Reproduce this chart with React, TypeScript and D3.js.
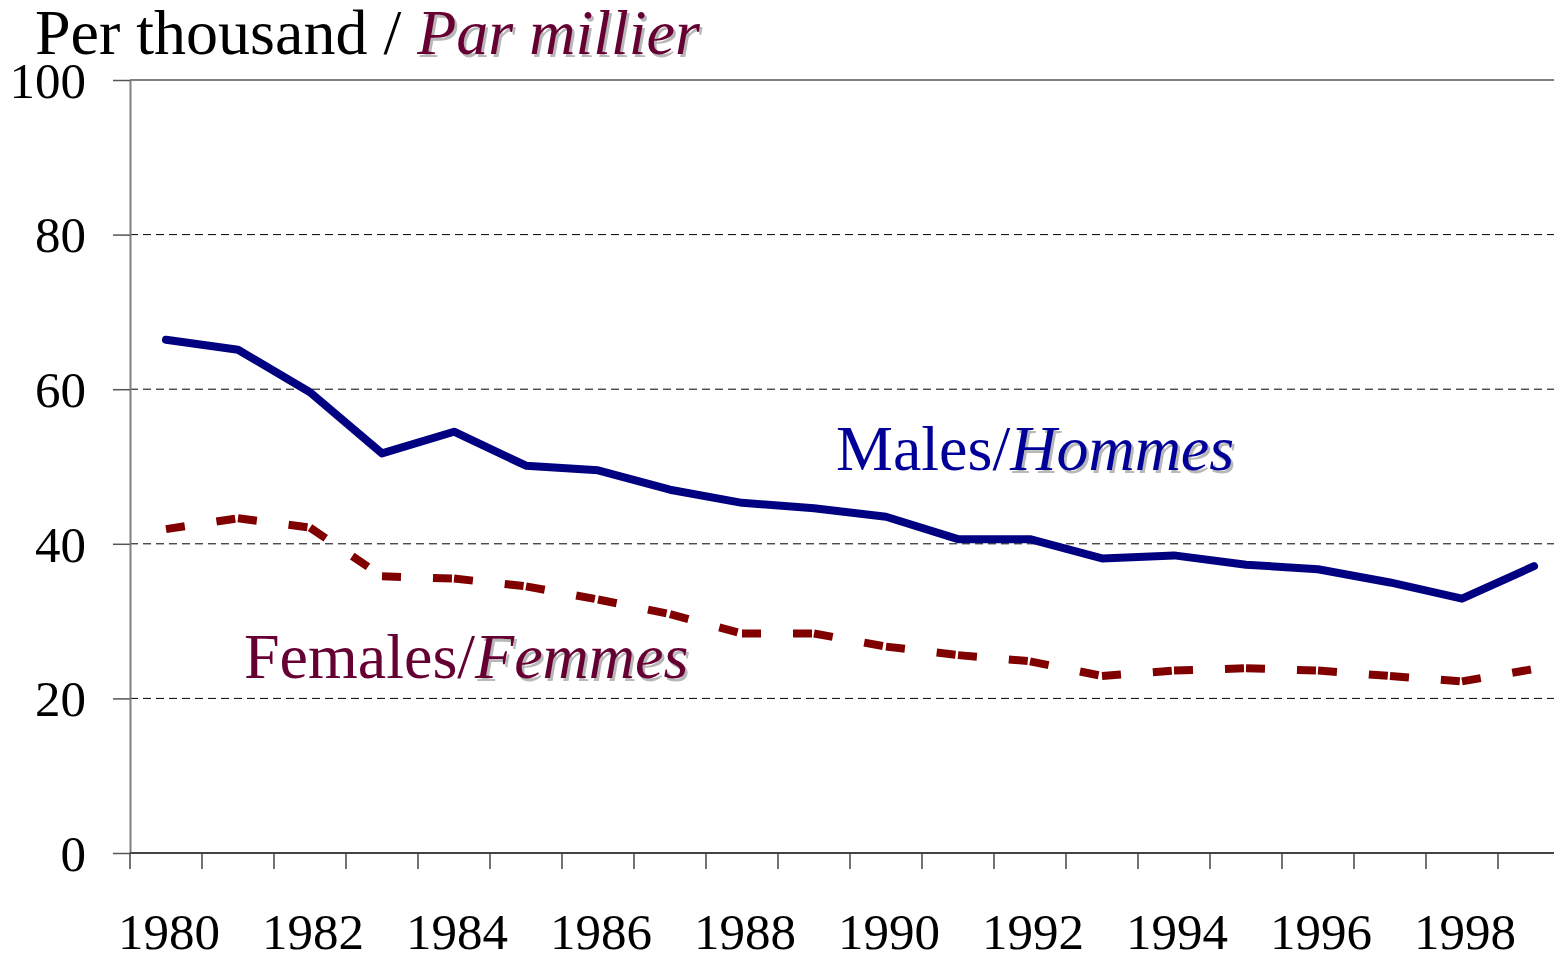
import * as d3 from "d3"
import { useLayoutEffect, useRef } from "react"

const years = [
  1980, 1981, 1982, 1983, 1984, 1985, 1986, 1987, 1988, 1989, 1990, 1991, 1992, 1993, 1994, 1995, 1996,
  1997, 1998, 1999,
]
const males = [
  66.4, 65.1, 59.6, 51.7, 54.5, 50.1, 49.5, 47.0, 45.3, 44.6, 43.5, 40.6, 40.6, 38.1, 38.5, 37.3, 36.7,
  35.0, 32.9, 37.1,
]
const females = [
  41.9, 43.3, 42.1, 35.8, 35.5, 34.5, 32.8, 30.9, 28.4, 28.4, 26.7, 25.6, 24.8, 22.9, 23.6, 23.9, 23.6,
  22.9, 22.2, 23.8,
]
const yTicks = [0, 20, 40, 60, 80, 100]
const gridTicks = [20, 40, 60, 80]
const yearLabels = [1980, 1982, 1984, 1986, 1988, 1990, 1992, 1994, 1996, 1998]

const W = 1554
const H = 957
const FONT = "'Liberation Serif', 'Times New Roman', serif"

export default function App() {
  const ref = useRef<SVGSVGElement>(null)

  useLayoutEffect(() => {
    if (!ref.current) return
    const svg = d3.select(ref.current)
    svg.selectAll("*").remove()

    const left = 130
    const top = 80
    const bottom = 853
    const band = 72

    const x = d3
      .scaleBand<number>()
      .domain(years)
      .range([left, left + band * years.length])
    const y = d3.scaleLinear().domain([0, 100]).range([bottom, top])
    const cx = (yr: number) => x(yr)! + x.bandwidth() / 2

    // gridlines
    svg
      .append("g")
      .selectAll("line")
      .data(gridTicks)
      .enter()
      .append("line")
      .attr("x1", left)
      .attr("x2", W)
      .attr("y1", (d) => y(d))
      .attr("y2", (d) => y(d))
      .attr("stroke", "#000")
      .attr("stroke-width", 1)
      .attr("stroke-dasharray", "8 5")

    // top border
    svg
      .append("line")
      .attr("x1", left)
      .attr("x2", W)
      .attr("y1", y(100))
      .attr("y2", y(100))
      .attr("stroke", "#808080")
      .attr("stroke-width", 2)

    // left axis
    const yAxis = svg
      .append("g")
      .attr("transform", `translate(${left},0)`)
      .call(d3.axisLeft(y).tickValues(yTicks).tickSize(17).tickSizeOuter(0).tickPadding(27))
    yAxis.select(".domain").attr("stroke", "#808080").attr("stroke-width", 2)
    yAxis.selectAll(".tick line").attr("stroke", "#555").attr("stroke-width", 1.5)
    yAxis
      .selectAll(".tick text")
      .attr("font-family", FONT)
      .attr("font-size", 51)
      .attr("fill", "#000")
      .attr("dy", "0.34em")

    // bottom axis
    const boundaries = d3.range(years.length + 1).map((i) => left + i * band)
    svg
      .append("line")
      .attr("x1", left)
      .attr("x2", W)
      .attr("y1", bottom)
      .attr("y2", bottom)
      .attr("stroke", "#444")
      .attr("stroke-width", 2)
    svg
      .append("g")
      .selectAll("line")
      .data(boundaries)
      .enter()
      .append("line")
      .attr("x1", (d) => d)
      .attr("x2", (d) => d)
      .attr("y1", bottom)
      .attr("y2", bottom + 16)
      .attr("stroke", "#444")
      .attr("stroke-width", 1.5)
    svg
      .append("g")
      .selectAll("text")
      .data(yearLabels)
      .enter()
      .append("text")
      .attr("x", (d) => cx(d) + 3)
      .attr("y", 949)
      .attr("text-anchor", "middle")
      .attr("font-family", FONT)
      .attr("font-size", 51)
      .text((d) => d)

    // males line
    const line = d3
      .line<number>()
      .x((_, i) => cx(years[i]))
      .y((d) => y(d))
    svg
      .append("path")
      .datum(males)
      .attr("d", line)
      .attr("fill", "none")
      .attr("stroke", "#000080")
      .attr("stroke-width", 8)
      .attr("stroke-linejoin", "round")
      .attr("stroke-linecap", "round")

    // females dashed line, dash pattern restarts at every point
    const segs = d3.pairs(females.map((v, i) => [v, i] as [number, number]))
    svg
      .append("g")
      .selectAll("path")
      .data(segs)
      .enter()
      .append("path")
      .attr("d", ([a, b]) => `M${cx(years[a[1]])},${y(a[0])}L${cx(years[b[1]])},${y(b[0])}`)
      .attr("fill", "none")
      .attr("stroke", "#800000")
      .attr("stroke-width", 8)
      .attr("stroke-dasharray", "19 32")

    // labels with shadowed italic parts
    const label = (
      xPos: number,
      yPos: number,
      size: number,
      plain: string,
      italic: string,
      plainColor: string,
      italicColor: string,
    ) => {
      const shadow = svg
        .append("text")
        .attr("x", xPos + 2.5)
        .attr("y", yPos + 2.5)
        .attr("font-family", FONT)
        .attr("font-size", size)
      shadow.append("tspan").attr("fill", "none").text(plain)
      shadow.append("tspan").attr("fill", "#b8b8b8").attr("font-style", "italic").text(italic)
      const t = svg
        .append("text")
        .attr("x", xPos)
        .attr("y", yPos)
        .attr("font-family", FONT)
        .attr("font-size", size)
      t.append("tspan").attr("fill", plainColor).text(plain)
      t.append("tspan").attr("fill", italicColor).attr("font-style", "italic").text(italic)
    }

    label(35, 54, 64, "Per thousand / ", "Par millier", "#000", "#660033")
    label(836, 470, 64, "Males/", "Hommes", "#000099", "#000099")
    label(244, 678, 64, "Females/", "Femmes", "#660033", "#660033")
  }, [])

  return (
    <svg
      ref={ref}
      width={W}
      height={H}
      style={{ position: "absolute", left: 0, top: 0, background: "#fff" }}
    />
  )
}
